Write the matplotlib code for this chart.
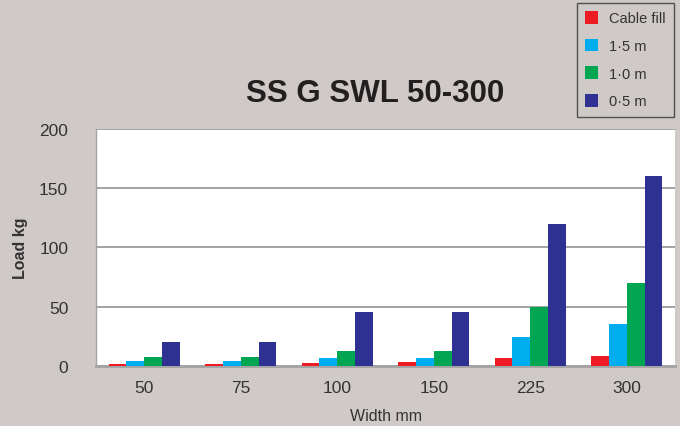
import matplotlib
matplotlib.use("Agg")
import matplotlib.pyplot as plt
import numpy as np

categories = ["50", "75", "100", "150", "225", "300"]
series_names = ["Cable fill", "1·5 m", "1·0 m", "0·5 m"]
cable_fill = [1.2, 1.2, 2, 3, 6.5, 8]
m1_5 = [4, 4, 6.5, 6.5, 24, 35]
m1_0 = [7, 7, 12, 12, 50, 70]
m0_5 = [20, 20, 45, 45, 120, 160]
colors = ["#ed1c24", "#00aeef", "#00a651", "#2e3192"]
yticks = [0, 50, 100, 150, 200]

bg = "#cfcac7"
txt = "#333333"
plt.rcParams['font.family'] = ['Liberation Sans', 'DejaVu Sans']

fig = plt.figure(figsize=(6.8, 4.27), dpi=100, facecolor=bg)
ax = fig.add_axes([96/680, 60.3/427, (675-96)/680, (366.7-130)/427])
ax.set_facecolor("white")

x = np.arange(len(categories))
w = 0.185
all_series = [cable_fill, m1_5, m1_0, m0_5]
handles = []
for i, (vals, c, name) in enumerate(zip(all_series, colors, series_names)):
    h = ax.bar(x + (i - 1.5) * w, vals, width=w, color=c, label=name, zorder=3)
    handles.append(h)

ax.set_xlim(-0.5, len(categories) - 0.5)
ax.set_ylim(0, 200)
ax.set_yticks(yticks)
ax.set_xticks(x)
ax.set_xticklabels(categories)
ax.yaxis.grid(True, color="#a3a3a5", linewidth=1.4, zorder=1)
for s in ["top", "right"]:
    ax.spines[s].set_visible(False)
ax.spines["left"].set_color("#a3a3a5")
ax.spines["left"].set_linewidth(1.0)
ax.spines["bottom"].set_color("#a3a3a5")
ax.spines["bottom"].set_linewidth(2.0)
ax.spines["bottom"].set_zorder(2)
ax.tick_params(axis="both", length=0, labelsize=12.5, colors=txt, pad=10)
ax.tick_params(axis="y", pad=20)

ax.set_xlabel("Width mm", fontsize=11.5, color=txt, labelpad=10)
ax.set_ylabel("Load kg", fontsize=11.5, color=txt, fontweight="bold")
ax.yaxis.set_label_coords(-(96-28)/579, 0.5)

fig.text(375/680, 1 - 94/427, "SS G SWL 50-300", fontsize=22.5, fontweight="bold",
         color="#231f20", ha="center", va="center")

leg = fig.legend(handles=handles, labels=series_names, loc="upper right",
                 bbox_to_anchor=(674/680, 1 - 4/427), frameon=True, fontsize=10.5,
                 handlelength=0.95, handleheight=0.95, labelspacing=0.92,
                 borderpad=0.55, handletextpad=0.75, borderaxespad=0, fancybox=False)
leg.get_frame().set_facecolor(bg)
leg.get_frame().set_edgecolor("#333333")
leg.get_frame().set_linewidth(1.0)
for t in leg.get_texts():
    t.set_color(txt)

fig.savefig("out.png", dpi=100, facecolor=bg)
